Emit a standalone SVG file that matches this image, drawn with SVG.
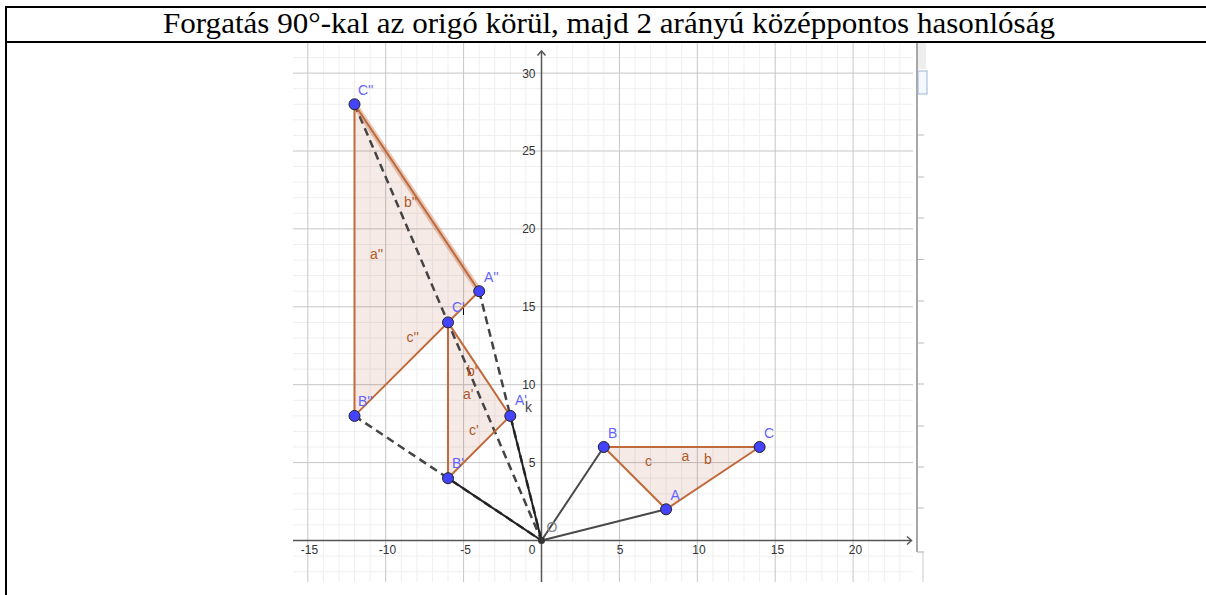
<svg xmlns="http://www.w3.org/2000/svg" width="1206" height="595" viewBox="0 0 1206 595">
<style>
.minor{stroke:#efefef;stroke-width:1;fill:none}
.major{stroke:#c6c6c6;stroke-width:1;fill:none}
.axis{stroke:#555;stroke-width:1.5;fill:none}
.num{font-family:"Liberation Sans",Arial,sans-serif;font-size:12px;fill:#333}
.tri{fill:#993300;fill-opacity:0.1;stroke:none}
.edge{stroke:#bf6a3c;stroke-width:2;fill:none;stroke-linecap:round}
.seg{stroke:#222;stroke-width:2;fill:none;stroke-linecap:round}
.seg2{stroke:#4a4a4a;stroke-width:2;fill:none;stroke-linecap:round}
.dash{stroke:#444;stroke-width:2.5;fill:none;stroke-dasharray:8,5}
.pt{fill:#4444ff;stroke:#222;stroke-width:1}
.plab{font-family:"Liberation Sans",Arial,sans-serif;font-size:14px;fill:#6464ff}
.slab{font-family:"Liberation Sans",Arial,sans-serif;font-size:14px;fill:#b0582a}
.table{stroke:#000;stroke-width:2;fill:none}
.title{font-family:"Liberation Serif","Times New Roman",serif;font-size:29px;fill:#000}
</style>
<g id="table">
<line class="table" x1="5" y1="7" x2="1206" y2="7"/>
<line class="table" x1="6" y1="6" x2="6" y2="595"/>
<line class="table" x1="5" y1="42" x2="1206" y2="42"/>
<text class="title" x="163" y="33" textLength="892" lengthAdjust="spacingAndGlyphs">Forgatás 90°-kal az origó körül, majd 2 arányú középpontos hasonlóság</text>
</g>
<g id="grid">
<path class="minor" d="M323.4 43V582M339 43V582M370.1 43V582M401.3 43V582M416.9 43V582M432.4 43V582M448 43V582M479.2 43V582M494.8 43V582M510.3 43V582M525.9 43V582M557.1 43V582M572.7 43V582M588.2 43V582M603.8 43V582M635 43V582M650.6 43V582M666.1 43V582M681.7 43V582M712.9 43V582M728.5 43V582M744 43V582M759.6 43V582M790.8 43V582M806.4 43V582M821.9 43V582M837.5 43V582M868.7 43V582M884.3 43V582M899.8 43V582M354.5 43V582"/>
<path class="minor" d="M293 571.7H913M293 556.1H913M293 524.9H913M293 509.3H913M293 493.8H913M293 478.2H913M293 447H913M293 431.4H913M293 415.9H913M293 400.3H913M293 369.1H913M293 353.5H913M293 338H913M293 322.4H913M293 291.2H913M293 275.6H913M293 260.1H913M293 244.5H913M293 213.3H913M293 197.7H913M293 182.2H913M293 166.6H913M293 135.4H913M293 119.8H913M293 104.3H913M293 88.7H913M293 57.5H913"/>
<path class="major" d="M307.8 43V582M385.7 43V582M463.6 43V582M619.4 43V582M697.3 43V582M775.2 43V582M853.1 43V582M293 462.6H913M293 384.7H913M293 306.8H913M293 228.9H913M293 151H913M293 73.1H913"/>
</g>
<g id="axes">
<line class="axis" x1="293" y1="540.5" x2="911" y2="540.5"/>
<path class="axis" d="M907 536.5L911.5 540.5L907 544.5"/>
<line class="axis" x1="541.5" y1="582" x2="541.5" y2="51"/>
<path class="axis" d="M537.5 55.5L541.5 51L545.5 55.5"/>
<text class="num" x="309.5" y="554" text-anchor="middle">-15</text>
<text class="num" x="387.5" y="554" text-anchor="middle">-10</text>
<text class="num" x="465.5" y="554" text-anchor="middle">-5</text>
<text class="num" x="532" y="554" text-anchor="middle">0</text>
<text class="num" x="620" y="554" text-anchor="middle">5</text>
<text class="num" x="699" y="554" text-anchor="middle">10</text>
<text class="num" x="777.5" y="554" text-anchor="middle">15</text>
<text class="num" x="855.5" y="554" text-anchor="middle">20</text>
<text class="num" x="535.5" y="467" text-anchor="end">5</text>
<text class="num" x="535.5" y="389" text-anchor="end">10</text>
<text class="num" x="535.5" y="311" text-anchor="end">15</text>
<text class="num" x="535.5" y="233.3" text-anchor="end">20</text>
<text class="num" x="535.5" y="155.4" text-anchor="end">25</text>
<text class="num" x="535.5" y="77.5" text-anchor="end">30</text>
</g>
<g id="chrome">
<line x1="917" y1="43" x2="917" y2="552" stroke="#8a8a8a" stroke-width="1.5"/>
<line x1="917" y1="552" x2="924" y2="552" stroke="#aaa" stroke-width="1"/>
<line x1="923" y1="552" x2="923" y2="582" stroke="#ccc" stroke-width="1"/>
<rect x="918" y="43" width="8" height="26" fill="#eeeeee"/>
<rect x="918" y="71" width="9" height="23" fill="#f4f7fb" stroke="#9db4d6" stroke-width="1"/>
<path d="M918 135H924M918 177H924M918 218H924M918 259.5H924M918 301H924M918 343H924M918 384H924M918 426H924M918 467H924M918 508H924" stroke="#bbb" stroke-width="1"/>
<line x1="463.5" y1="305" x2="463.5" y2="315" stroke="#000" stroke-width="1"/>
</g>
<g id="triangles">
<polygon id="tri-ABC" class="tri" points="666.1,509.3 603.8,447 759.6,447"/>
<polygon id="tri-A1B1C1" class="tri" points="510.3,415.9 448,478.2 448,322.4"/>
<polygon id="tri-A2B2C2" class="tri" points="479.2,291.2 354.5,415.9 354.5,104.3"/>
</g>
<g id="connectors">
<line class="dash" x1="354.5" y1="104.3" x2="541.5" y2="540.5"/>
<line class="dash" x1="479.2" y1="291.2" x2="541.5" y2="540.5"/>
<line class="dash" x1="354.5" y1="415.9" x2="541.5" y2="540.5"/>
<line class="seg2" x1="541.5" y1="540.5" x2="666.1" y2="509.3"/>
<line class="seg2" x1="541.5" y1="540.5" x2="603.8" y2="447"/>
<line class="seg" x1="541.5" y1="540.5" x2="510.3" y2="415.9"/>
<line class="seg" x1="541.5" y1="540.5" x2="448" y2="478.2"/>
<line class="edge" x1="666.1" y1="509.3" x2="603.8" y2="447"/>
<line class="edge" x1="603.8" y1="447" x2="759.6" y2="447"/>
<line class="edge" x1="759.6" y1="447" x2="666.1" y2="509.3"/>
<line class="edge" x1="510.3" y1="415.9" x2="448" y2="478.2"/>
<line class="edge" x1="448" y1="478.2" x2="448" y2="322.4"/>
<line class="edge" x1="448" y1="322.4" x2="510.3" y2="415.9"/>
<line class="edge" x1="479.2" y1="291.2" x2="354.5" y2="415.9"/>
<line class="edge" x1="354.5" y1="415.9" x2="354.5" y2="104.3"/>
<line x1="354.5" y1="104.3" x2="479.2" y2="291.2" stroke="#bf6a3c" stroke-opacity="0.35" stroke-width="6" stroke-linecap="round"/>
<line class="edge" x1="354.5" y1="104.3" x2="479.2" y2="291.2" stroke-width="3"/>
<text class="slab" x="404" y="206.5">b''</text>
<text class="slab" x="370" y="259.3">a''</text>
<text class="slab" x="406.5" y="341.7">c''</text>
<text class="slab" x="467" y="375.7">b'</text>
<text class="slab" x="463" y="399.3">a'</text>
<text class="slab" x="469" y="435">c'</text>
<text class="slab" x="645" y="466">c</text>
<text class="slab" x="681.5" y="461">a</text>
<text class="slab" x="704" y="464.3">b</text>
<text x="525" y="411.7" font-family="Liberation Sans,Arial,sans-serif" font-size="14" fill="#444">k</text>
</g>
<g id="node-O"><circle cx="541.5" cy="540.5" r="3.5" fill="#333"/><text x="546.5" y="531.7" font-family="Liberation Sans,Arial,sans-serif" font-size="14" fill="#888">O</text></g>
<g id="node-A"><circle class="pt" cx="666.1" cy="509.3" r="5.5"/><text class="plab" x="670.5" y="500">A</text></g>
<g id="node-B"><circle class="pt" cx="603.8" cy="447" r="5.5"/><text class="plab" x="608" y="437.7">B</text></g>
<g id="node-C"><circle class="pt" cx="759.6" cy="447" r="5.5"/><text class="plab" x="764" y="437.7">C</text></g>
<g id="node-A1"><circle class="pt" cx="510.3" cy="415.9" r="5.5"/><text class="plab" x="515" y="405">A'</text></g>
<g id="node-B1"><circle class="pt" cx="448" cy="478.2" r="5.5"/><text class="plab" x="452" y="467.7">B'</text></g>
<g id="node-C1"><circle class="pt" cx="448" cy="322.4" r="5.5"/><text class="plab" x="452" y="311.7">C'</text></g>
<g id="node-A2"><circle class="pt" cx="479.2" cy="291.2" r="5.5"/><text class="plab" x="484" y="281.7">A''</text></g>
<g id="node-B2"><circle class="pt" cx="354.5" cy="415.9" r="5.5"/><text class="plab" x="358" y="406">B''</text></g>
<g id="node-C2"><circle class="pt" cx="354.5" cy="104.3" r="5.5"/><text class="plab" x="358" y="95">C''</text></g>
</svg>
